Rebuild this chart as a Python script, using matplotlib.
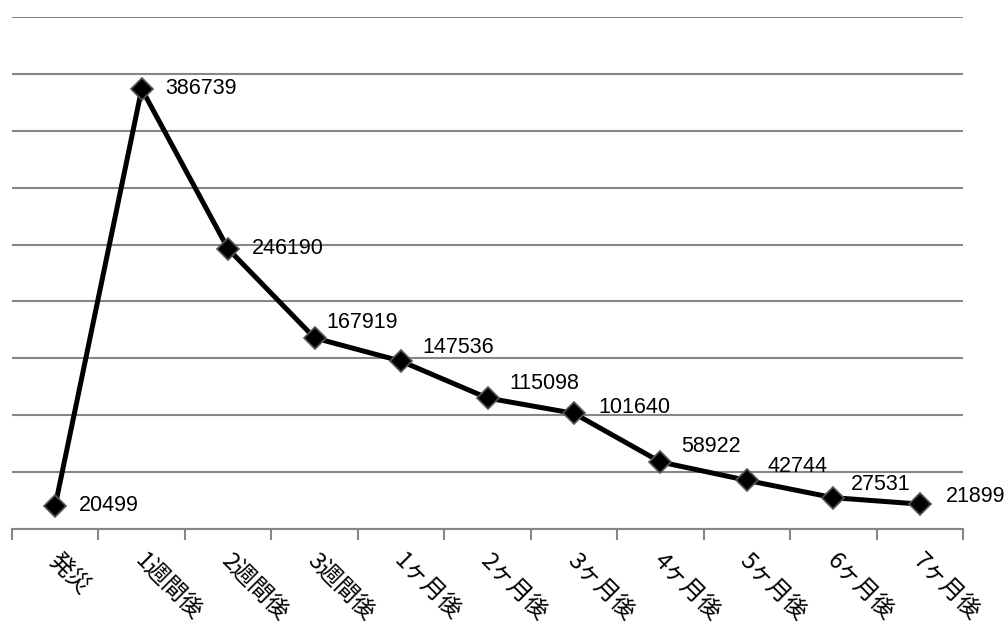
import matplotlib
matplotlib.use("Agg")
import matplotlib.pyplot as plt
from matplotlib.transforms import ScaledTranslation

# Data
categories = ["発災", "1週間後", "2週間後", "3週間後", "1ヶ月後", "2ヶ月後",
              "3ヶ月後", "4ヶ月後", "5ヶ月後", "6ヶ月後", "7ヶ月後"]
values = [20499, 386739, 246190, 167919, 147536, 115098,
          101640, 58922, 42744, 27531, 21899]

# label offsets in pixels (dx, dy) from each point
label_offsets = [(24, 0), (24, 0), (24, 0), (12, 15), (21, 14), (22, 15),
                 (24, 6), (21, 15), (21, 14), (18, 13), (26, 8)]

plt.rcParams['font.family'] = ['Liberation Sans', 'Noto Sans CJK JP', 'DejaVu Sans']

fig = plt.figure(figsize=(10.06, 6.30), dpi=100)
ax = fig.add_axes([12 / 1006, (630 - 529) / 630, (963 - 12) / 1006, (529 - 17) / 630])

x = list(range(len(categories)))
ax.set_xlim(-0.5, len(categories) - 0.5)
ax.set_ylim(0, 450000)

# horizontal gridlines every 50000
ax.set_yticks(range(0, 450001, 50000))
ax.yaxis.grid(True, color="#868686", linewidth=1.5)
ax.set_axisbelow(True)
ax.tick_params(axis='y', left=False, labelleft=False)

for s in ['top', 'right', 'left']:
    ax.spines[s].set_visible(False)
ax.spines['bottom'].set_color("#868686")
ax.spines['bottom'].set_linewidth(1.5)

# category tick marks on boundaries, labels at centers
ax.set_xticks([i - 0.5 for i in range(len(categories) + 1)], minor=True)
ax.tick_params(axis='x', which='minor', length=8, width=1.5, color="#868686", direction='out')
ax.set_xticks(x)
ax.set_xticklabels(categories, rotation=-45, rotation_mode='anchor', ha='left', va='center',
                   fontsize=17, family=['Noto Sans CJK JP', 'DejaVu Sans'])
ax.tick_params(axis='x', which='major', length=0, pad=21)
for lbl in ax.get_xticklabels():
    lbl.set_transform(lbl.get_transform() + ScaledTranslation(-4 / 100, 0, fig.dpi_scale_trans))

ax.plot(x, values, color='black', linewidth=3.6, marker='D', markersize=11,
        markerfacecolor='black', markeredgecolor='#555555', markeredgewidth=1.2,
        solid_joinstyle='round', clip_on=False, zorder=3)

for xi, v, (dx, dy) in zip(x, values, label_offsets):
    ax.annotate(str(v), (xi, v), xytext=(dx * 0.72, dy * 0.72), textcoords='offset points',
                ha='left', va='center', fontsize=15.5, color='black')

fig.savefig("out.png", dpi=100)
